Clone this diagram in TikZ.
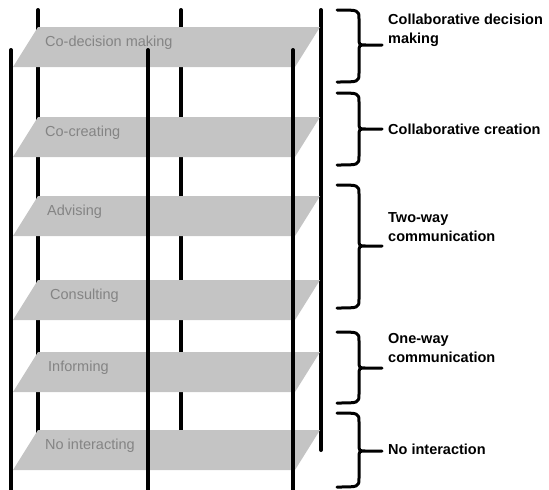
\documentclass[tikz,border=0pt]{standalone}
\usepackage{fontspec}
\setmainfont{Liberation Sans}
\usepackage{tikz}
\usetikzlibrary{positioning}
\usepackage{xcolor}
\definecolor{shelfgray}{RGB}{196,196,196}
\definecolor{labelgray}{RGB}{132,132,132}
\newcommand{\levelbrace}[3]{% top, bottom, tip
    \draw[bracket] (337,#1) .. controls (359,#1) .. (359,#1+9) -- (359,#3-7)
         .. controls (359,#3) .. (366,#3) -- (382,#3)
         (366,#3) .. controls (359,#3) .. (359,#3+7) -- (359,#2-9)
         .. controls (359,#2) .. (337,#2);}

\begin{document}
\begin{tikzpicture}[x=1pt, y=-1pt,
    post/.style={line width=4pt, line cap=round},
    shelf/.style={fill=shelfgray},
    shelflabel/.style={font=\fontsize{14.5}{17}\selectfont, text=labelgray,
                       anchor=base west, inner sep=0pt},
    bracelabel/.style={font=\fontsize{14.5}{19}\selectfont\bfseries,
                       anchor=base west, align=left, inner sep=0pt},
    bracket/.style={line width=3pt, line cap=round, line join=round}]
    \useasboundingbox (0,0) rectangle (549,490);
    % Back posts
    \foreach \x in {38,181,321}
        \draw[post] (\x,10) -- (\x,450);
    % Shelves
    \foreach \y/\lx/\name/\txt in {27/45/codecision/Co-decision making,
                                    117/45/cocreating/Co-creating,
                                    196/47/advising/Advising,
                                    280/50/consulting/Consulting,
                                    352/48/informing/Informing,
                                    430/45/nointeracting/No interacting}{
        \fill[shelf] (38,\y) -- (320,\y) -- (295,\y+40) -- (13,\y+40) -- cycle;
        \node[shelflabel] (\name) at (\lx,\y+19) {\txt};
    }
    % Front posts
    \foreach \x in {11,148,293}
        \draw[post] (\x,50) -- (\x,492);
    % Braces
    \levelbrace{10}{82}{45}
    \levelbrace{93}{165}{129}
    \levelbrace{185}{308}{246}
    \levelbrace{332}{403}{368}
    \levelbrace{413}{487}{451}
    \node[bracelabel] (decision) at (388,43) {Collaborative decision\\making};
    \node[bracelabel] (creation) at (388,134) {Collaborative creation};
    \node[bracelabel] (twoway) at (388,241) {Two-way\\communication};
    \node[bracelabel] (oneway) at (388,362) {One-way\\communication};
    \node[bracelabel] (nointeraction) at (388,454) {No interaction};
\end{tikzpicture}
\end{document}
